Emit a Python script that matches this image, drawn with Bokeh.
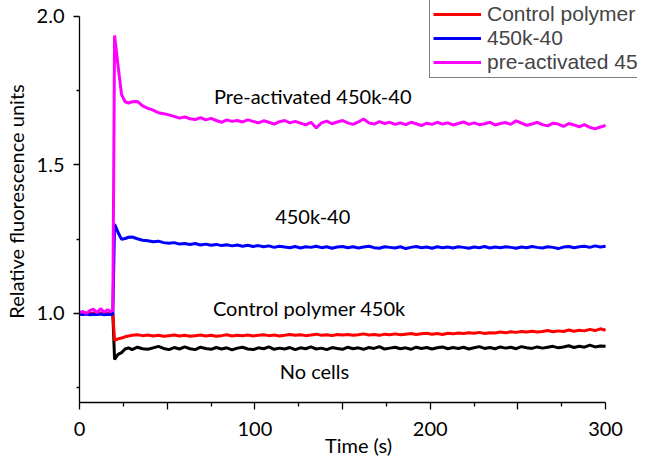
from bokeh.plotting import figure
from bokeh.models import FixedTicker, Legend, LegendItem, ColumnDataSource, PrintfTickFormatter
from bokeh.embed import file_html
from bokeh.resources import INLINE
from bokeh.core.properties import value

# ---------------- data ----------------
time_s = [0, 2, 4, 6, 8, 10, 12, 14, 16, 18, 19, 20, 22, 24, 26, 28, 30,
          33, 36, 39, 42, 45, 48, 51, 54, 57, 60,
          63, 66, 69, 72, 75, 78, 81, 84, 87, 90,
          93, 96, 99, 102, 105, 108, 111, 114, 117, 120,
          123, 126, 129, 132, 135, 138, 141, 144, 147, 150,
          153, 156, 159, 162, 165, 168, 171, 174, 177, 180,
          183, 186, 189, 192, 195, 198, 201, 204, 207, 210,
          213, 216, 219, 222, 225, 228, 231, 234, 237, 240,
          243, 246, 249, 252, 255, 258, 261, 264, 267, 270,
          273, 276, 279, 282, 285, 288, 291, 294, 297, 300]

preactivated = [1.003, 1.006, 1.000, 1.010, 1.014, 1.002, 1.016, 1.004, 1.012, 1.006, 1.010,
                1.935, 1.832, 1.736, 1.712, 1.708, 1.712,
                1.713, 1.698, 1.690, 1.684, 1.675, 1.672, 1.668, 1.663, 1.657, 1.661,
                1.655, 1.652, 1.659, 1.651, 1.656, 1.649, 1.643, 1.651, 1.646, 1.649,
                1.644, 1.651, 1.646, 1.641, 1.648, 1.643, 1.637, 1.645, 1.649, 1.641,
                1.646, 1.640, 1.634, 1.643, 1.624, 1.641, 1.647, 1.638, 1.644, 1.649,
                1.641, 1.636, 1.644, 1.654, 1.641, 1.637, 1.645, 1.639, 1.643, 1.636,
                1.641, 1.635, 1.643, 1.638, 1.632, 1.640, 1.636, 1.643, 1.637, 1.641,
                1.634, 1.639, 1.644, 1.636, 1.641, 1.635, 1.638, 1.643, 1.634, 1.639,
                1.642, 1.636, 1.648, 1.640, 1.633, 1.637, 1.643, 1.635, 1.631, 1.640,
                1.637, 1.629, 1.639, 1.634, 1.628, 1.635, 1.626, 1.621, 1.627, 1.632]

k450_40 = [0.997, 0.996, 0.998, 0.995, 0.997, 0.996, 0.998, 0.995, 0.997, 0.996, 0.998,
           1.300, 1.272, 1.249, 1.252, 1.256, 1.257,
           1.251, 1.246, 1.244, 1.241, 1.243, 1.238, 1.236, 1.238, 1.233, 1.235,
           1.232, 1.235, 1.230, 1.233, 1.229, 1.232, 1.228, 1.231, 1.227, 1.230,
           1.226, 1.229, 1.225, 1.228, 1.224, 1.227, 1.222, 1.226, 1.223, 1.221,
           1.225, 1.220, 1.224, 1.222, 1.226, 1.221, 1.224, 1.219, 1.223, 1.225,
           1.221, 1.224, 1.220, 1.223, 1.226, 1.221, 1.219, 1.224, 1.222, 1.220,
           1.224, 1.218, 1.222, 1.225, 1.221, 1.223, 1.219, 1.224, 1.221, 1.223,
           1.220, 1.224, 1.222, 1.219, 1.223, 1.221, 1.225, 1.220, 1.223, 1.221,
           1.224, 1.222, 1.219, 1.223, 1.221, 1.225, 1.222, 1.220, 1.224, 1.222,
           1.218, 1.223, 1.225, 1.221, 1.224, 1.226, 1.222, 1.227, 1.223, 1.226]

control_polymer = [1.000, 0.999, 1.000, 0.999, 1.000, 0.999, 1.000, 0.999, 1.000, 0.999, 1.000,
                   0.909, 0.914, 0.917, 0.921, 0.924, 0.926,
                   0.928, 0.925, 0.927, 0.924, 0.926, 0.923, 0.925, 0.927, 0.924, 0.926,
                   0.923, 0.925, 0.927, 0.924, 0.926, 0.923, 0.925, 0.928, 0.924, 0.926,
                   0.925, 0.927, 0.924, 0.926, 0.928, 0.925, 0.927, 0.924, 0.926, 0.929,
                   0.926, 0.928, 0.925, 0.927, 0.930, 0.926, 0.928, 0.925, 0.929, 0.927,
                   0.929, 0.926, 0.928, 0.931, 0.927, 0.929, 0.926, 0.930, 0.928, 0.931,
                   0.928, 0.930, 0.932, 0.929, 0.931, 0.933, 0.930, 0.932, 0.929, 0.933,
                   0.931, 0.934, 0.932, 0.935, 0.933, 0.936, 0.932, 0.935, 0.934, 0.937,
                   0.935, 0.938, 0.936, 0.939, 0.937, 0.940, 0.937, 0.939, 0.942, 0.938,
                   0.941, 0.939, 0.944, 0.940, 0.943, 0.941, 0.946, 0.942, 0.948, 0.943]

no_cells = [1.000, 1.000, 0.999, 1.000, 1.000, 0.999, 1.000, 1.000, 0.999, 1.000, 1.000,
            0.845, 0.862, 0.868, 0.880, 0.884, 0.878,
            0.886, 0.881, 0.879, 0.884, 0.889, 0.882, 0.878, 0.885, 0.880, 0.887,
            0.881, 0.878, 0.886, 0.882, 0.879, 0.885, 0.880, 0.884, 0.877, 0.883,
            0.886, 0.880, 0.878, 0.884, 0.881, 0.887, 0.879, 0.883, 0.880, 0.885,
            0.878, 0.884, 0.881, 0.887, 0.880, 0.883, 0.878, 0.885, 0.882, 0.879,
            0.886, 0.881, 0.884, 0.879, 0.885, 0.882, 0.888, 0.880, 0.883, 0.886,
            0.881, 0.884, 0.879, 0.886, 0.882, 0.885, 0.880, 0.884, 0.887, 0.881,
            0.885, 0.882, 0.886, 0.880, 0.884, 0.888, 0.882, 0.885, 0.881, 0.887,
            0.883, 0.886, 0.881, 0.888, 0.884, 0.882, 0.887, 0.883, 0.886, 0.889,
            0.884, 0.887, 0.891, 0.885, 0.889, 0.886, 0.893, 0.887, 0.890, 0.889]

legend_labels = ["Control polymer 450k", "450k-40", "pre-activated 450k-40"]

annot_text = ["Pre-activated 450k-40", "450k-40", "Control polymer 450k", "No cells"]
annot_x = [133, 133, 131, 134]
annot_y = [1.733, 1.328, 1.018, 0.805]

x_ticks = [0, 50, 100, 150, 200, 250, 300]
x_minor = [25, 75, 125, 175, 225, 275]
y_ticks = [1.0, 1.5, 2.0]
y_minor = [0.75, 1.25, 1.75]

for s in (preactivated, k450_40, control_polymer, no_cells):
    assert len(s) == len(time_s), len(s)

# ---------------- figure ----------------
# the frame runs past the axes so the legend can overhang (and be cut) like the original;
# axis bounds keep the drawn axes to 0-300 and 0.7-2.0
p = figure(width=645, height=464, output_backend="svg", toolbar_location=None,
           x_range=(0, 318.2), y_range=(0.7, 2.0528),
           min_border_left=78, min_border_right=8, min_border_top=0, min_border_bottom=62)
p.outline_line_color = None
p.grid.visible = False
p.background_fill_color = "white"
p.border_fill_color = "white"

src = ColumnDataSource(dict(t=time_s, pre=preactivated, k=k450_40, ctrl=control_polymer, none=no_cells))

r_black = p.line("t", "none", source=src, line_color="black", line_width=3)
r_red = p.line("t", "ctrl", source=src, line_color="#ff0000", line_width=3)
r_blue = p.line("t", "k", source=src, line_color="#0000ff", line_width=3)
r_mag = p.line("t", "pre", source=src, line_color="#ff00ff", line_width=3)

asrc = ColumnDataSource(dict(x=annot_x, y=annot_y, text=annot_text))
p.text("x", "y", text="text", source=asrc, text_font=value("Lato"), text_font_size="20px",
       text_align="center", text_baseline="middle", text_color="black")

# axes
xa = p.xaxis[0]
xa.ticker = FixedTicker(ticks=x_ticks, minor_ticks=x_minor)
xa.major_label_overrides = {50: "", 150: "", 250: ""}
xa.axis_label = "Time (s)"
xa.bounds = (0, 300)
ya = p.yaxis[0]
ya.ticker = FixedTicker(ticks=y_ticks, minor_ticks=y_minor)
ya.formatter = PrintfTickFormatter(format="%.1f")
ya.axis_label = "Relative fluorescence units"
ya.bounds = (0.7, 2.0)

for ax in (xa, ya):
    ax.axis_line_color = "black"
    ax.axis_line_width = 1.3
    ax.major_tick_line_color = "black"
    ax.minor_tick_line_color = "black"
    ax.major_tick_line_width = 1.3
    ax.minor_tick_line_width = 1.3
    ax.major_tick_in = 0
    ax.minor_tick_in = 0
    ax.major_label_text_font = "Lato"
    ax.major_label_text_font_size = "20px"
    ax.major_label_text_color = "black"
    ax.axis_label_text_font = "Lato"
    ax.axis_label_text_font_size = "20px"
    ax.axis_label_text_font_style = "normal"
    ax.axis_label_text_color = "black"

xa.major_tick_out = 7
xa.minor_tick_out = 4
xa.major_label_standoff = 12
xa.axis_label_standoff = -6
ya.major_tick_out = 6
ya.minor_tick_out = 3
ya.major_label_standoff = 9
ya.axis_label_standoff = 6

legend = Legend(items=[LegendItem(label=legend_labels[0], renderers=[r_red]),
                       LegendItem(label=legend_labels[1], renderers=[r_blue]),
                       LegendItem(label=legend_labels[2], renderers=[r_mag])],
                location=(350, 324), margin=0, padding=3, spacing=0,
                glyph_width=48, glyph_height=20, label_standoff=6,
                label_text_font="Liberation Sans", label_text_font_size="21px",
                border_line_color="black", border_line_width=1,
                background_fill_color="white", background_fill_alpha=1.0)
p.add_layout(legend)

open("out.html", "w").write(file_html(p, INLINE))
